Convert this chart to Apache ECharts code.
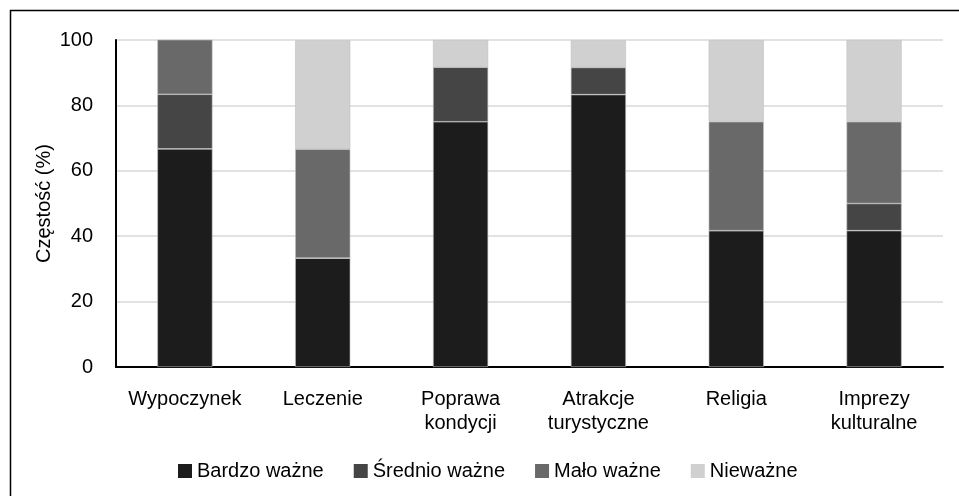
<!DOCTYPE html>
<html>
<head>
<meta charset="utf-8">
<script src="https://cdn.jsdelivr.net/npm/echarts@6/dist/echarts.min.js"></script>
<style>
  html, body { margin: 0; padding: 0; background: #fff; }
  #chart { width: 959px; height: 496px; }
</style>
</head>
<body>
<div id="chart"></div>
<script>
const categories = ['Wypoczynek', 'Leczenie', 'Poprawa\nkondycji', 'Atrakcje\nturystyczne', 'Religia', 'Imprezy\nkulturalne']
const seriesNames = ['Bardzo ważne', 'Średnio ważne', 'Mało ważne', 'Nieważne']
const bardzo = [66.7, 33.3, 75.0, 83.3, 41.7, 41.7]
const srednio = [16.7, 0, 16.7, 8.3, 0, 8.3]
const malo = [16.7, 33.3, 0, 0, 33.3, 25.0]
const niewazne = [0, 33.3, 8.3, 8.3, 25.0, 25.0]
const yTicks = [0, 20, 40, 60, 80, 100]
const colors = ['#1c1c1c', '#454545', '#696969', '#d0d0d0']

const chart = echarts.init(document.getElementById('chart'))
const values = [bardzo, srednio, malo, niewazne]

const font = '"Liberation Sans", Arial, sans-serif'

const option = {
  animation: false,
  color: colors,
  textStyle: { fontFamily: font },
  graphic: [{
    type: 'rect',
    shape: { x: 10.5, y: 10.5, width: 960, height: 500 },
    style: { fill: 'none', stroke: '#000', lineWidth: 1.5 },
    silent: true
  }],
  grid: { left: 116, right: 16, top: 40, bottom: 129 },
  legend: {
    top: 456,
    left: 173,
    itemWidth: 14,
    itemHeight: 14,
    itemGap: 30,
    icon: 'rect',
    itemStyle: { borderWidth: 0 },
    textStyle: { fontSize: 20, color: '#000', fontFamily: font },
    data: seriesNames
  },
  xAxis: {
    type: 'category',
    data: categories,
    axisLine: { lineStyle: { color: '#000', width: 2 } },
    axisTick: { show: false },
    axisLabel: { interval: 0, fontSize: 20, color: '#000', margin: 20, lineHeight: 24, fontFamily: font }
  },
  yAxis: {
    type: 'value',
    min: 0,
    max: 100,
    interval: 20,
    name: 'Częstość (%)',
    nameLocation: 'middle',
    nameGap: 62,
    nameMoveOverlap: false,
    nameTextStyle: { fontSize: 20, color: '#000', fontFamily: font },
    axisLine: { show: true, lineStyle: { color: '#000', width: 2 } },
    axisTick: { show: false },
    splitLine: { lineStyle: { color: '#d9d9d9', width: 1.5 } },
    axisLabel: {
      fontSize: 20, color: '#000', margin: 23, fontFamily: font,
      formatter: v => yTicks.includes(v) ? String(v) : ''
    }
  },
  series: seriesNames.map((name, i) => ({
    name,
    type: 'bar',
    stack: 'total',
    barWidth: '40%',
    data: values[i],
    itemStyle: { color: colors[i], borderColor: '#bfbfbf', borderWidth: 0.6 }
  }))
}

chart.setOption(option)
</script>
</body>
</html>
